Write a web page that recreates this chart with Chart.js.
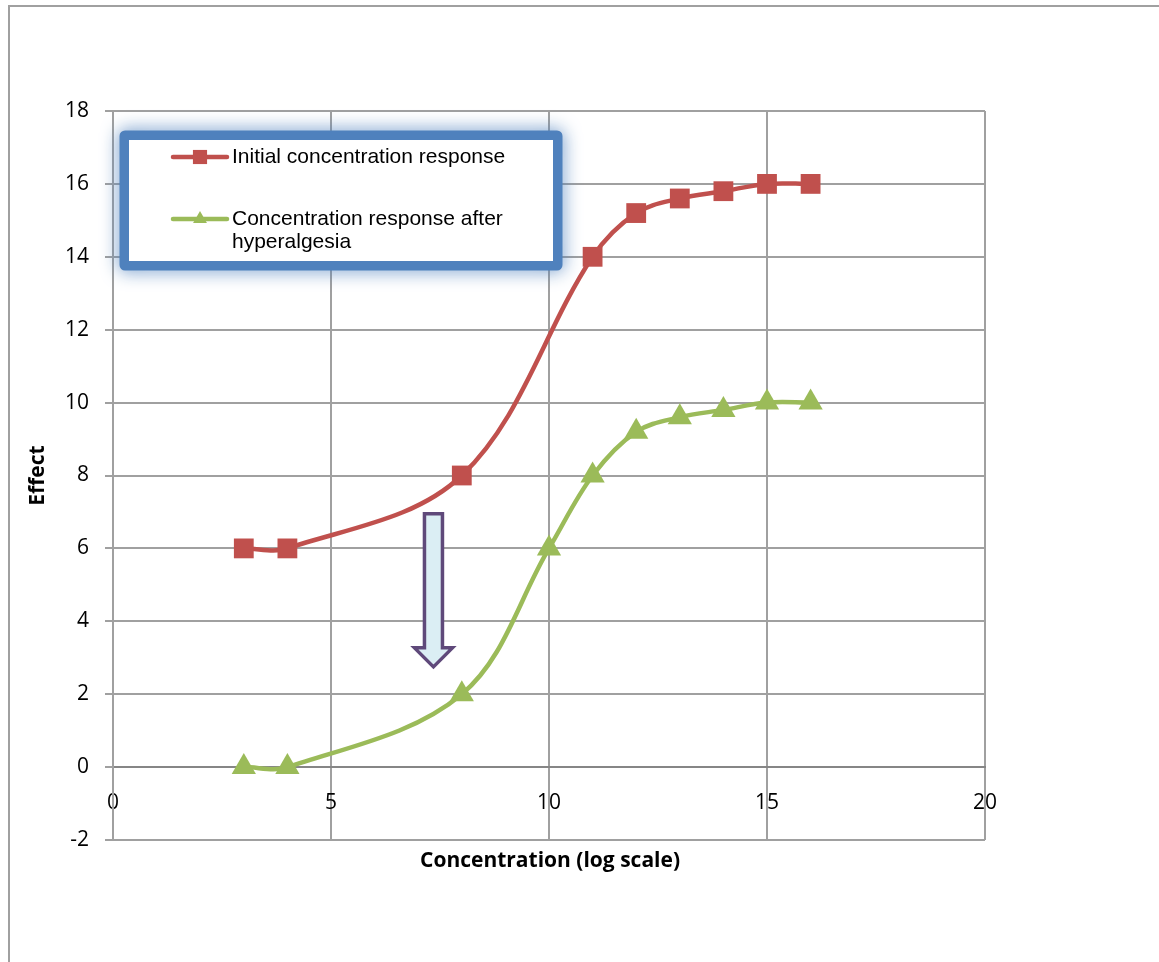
<!DOCTYPE html>
<html>
<head>
<meta charset="utf-8">
<script src="https://cdn.jsdelivr.net/npm/chart.js@4.4.1/dist/chart.umd.min.js"></script>
<style>
  html, body { margin: 0; padding: 0; background: #fff; overflow: hidden; }
  #frame { position: absolute; left: 8px; top: 5px; width: 1300px; height: 1100px;
           border-top: 2px solid #a0a0a0; border-left: 2px solid #a0a0a0; }
  #wrap { position: absolute; left: 0; top: 0; width: 1159px; height: 962px; }
</style>
</head>
<body>
<div id="frame"></div>
<div id="wrap"><canvas id="chart"></canvas></div>
<script>
// concentration response data
var initialX = [3, 4, 8, 11, 12, 13, 14, 15, 16];
var initialY = [6, 6, 8, 14, 15.2, 15.6, 15.8, 16, 16];
var afterX   = [3, 4, 8, 10, 11, 12, 13, 14, 15, 16];
var afterY   = [0, 0, 2, 6, 8, 9.2, 9.6, 9.8, 10, 10];
var seriesNames = ['Initial concentration response', 'Concentration response after hyperalgesia'];
var xTitle = 'Concentration (log scale)';
var yTitle = 'Effect';
// arrow annotation in data units
var arrowX = 7.35, arrowTop = 6.95, arrowTip = 2.75;

var RED = '#c0504d', GREEN = '#9bbb59';

function pts(xs, ys) { return xs.map(function (x, i) { return { x: x, y: ys[i] }; }); }

// legend box, arrow and x title drawn by hand
var extras = {
  id: 'extras',
  afterDatasetsDraw: function (chart) {
    var ctx = chart.ctx, xs = chart.scales.x, ys = chart.scales.y;

    // hollow down arrow
    var cx = xs.getPixelForValue(arrowX);
    var top = ys.getPixelForValue(arrowTop), tip = ys.getPixelForValue(arrowTip);
    var sw = 9, hw = 19, headTop = tip - 19;
    ctx.save();
    ctx.beginPath();
    ctx.moveTo(cx - sw, top);
    ctx.lineTo(cx + sw, top);
    ctx.lineTo(cx + sw, headTop);
    ctx.lineTo(cx + hw, headTop);
    ctx.lineTo(cx, tip);
    ctx.lineTo(cx - hw, headTop);
    ctx.lineTo(cx - sw, headTop);
    ctx.closePath();
    ctx.fillStyle = '#dbeef4';
    ctx.fill();
    ctx.lineWidth = 3.5;
    ctx.strokeStyle = '#5f497a';
    ctx.lineJoin = 'miter';
    ctx.stroke();
    ctx.restore();
  },
  afterDraw: function (chart) {
    var ctx = chart.ctx, area = chart.chartArea;
    ctx.save();
    // x axis title
    ctx.fillStyle = '#000';
    ctx.font = 'bold 21px "Open Sans"';
    ctx.textAlign = 'center';
    ctx.textBaseline = 'middle';
    ctx.fillText(xTitle, (area.left + area.right) / 2 + 1, 861);

    // legend box with glow
    var L = 129, T = 140, R = 553, B = 261;
    ctx.save();
    ctx.shadowColor = 'rgba(79,129,189,0.95)';
    ctx.shadowBlur = 18;
    ctx.strokeStyle = '#4f81bd';
    ctx.lineWidth = 11;
    ctx.lineJoin = 'round';
    ctx.strokeRect(L - 4, T - 4, R - L + 8, B - T + 8);
    ctx.restore();
    ctx.fillStyle = '#fff';
    ctx.fillRect(L, T, R - L, B - T);

    var rows = [
      { y: 157, color: RED, style: 'rect', r: 10, lines: [seriesNames[0]] },
      { y: 219, color: GREEN, style: 'triangle', r: 8, lines: ['Concentration response after', 'hyperalgesia'] }
    ];
    rows.forEach(function (row) {
      ctx.strokeStyle = row.color;
      ctx.lineWidth = 4.5;
      ctx.lineCap = 'round';
      ctx.beginPath();
      ctx.moveTo(173, row.y);
      ctx.lineTo(227, row.y);
      ctx.stroke();
      ctx.fillStyle = row.color;
      Chart.helpers.drawPoint(ctx, { pointStyle: row.style, radius: row.r, borderWidth: 0 }, 200, row.y);
      ctx.fillStyle = '#000';
      ctx.font = '21px "Liberation Sans", Arial';
      ctx.textAlign = 'left';
      ctx.textBaseline = 'middle';
      row.lines.forEach(function (t, i) { ctx.fillText(t, 232, row.y + i * 23); });
    });
    ctx.restore();
  }
};

new Chart(document.getElementById('chart'), {
  type: 'scatter',
  data: {
    datasets: [{
      label: seriesNames[0],
      data: pts(initialX, initialY),
      showLine: true,
      borderColor: RED,
      backgroundColor: RED,
      borderWidth: 4.5,
      tension: 0.35,
      pointStyle: 'rect',
      pointRadius: 14,
      pointBorderWidth: 0,
      pointHoverRadius: 14
    }, {
      label: seriesNames[1],
      data: pts(afterX, afterY),
      showLine: true,
      borderColor: GREEN,
      backgroundColor: GREEN,
      borderWidth: 4.5,
      tension: 0.35,
      pointStyle: 'triangle',
      pointRadius: 14,
      pointBorderWidth: 0,
      pointHoverRadius: 14
    }]
  },
  options: {
    responsive: true,
    maintainAspectRatio: false,
    animation: false,
    layout: { padding: { left: 0, top: 111, right: 174, bottom: 122 } },
    plugins: { legend: { display: false }, tooltip: { enabled: false } },
    scales: {
      x: {
        type: 'linear',
        position: { y: 0 },
        min: 0, max: 20,
        ticks: { stepSize: 5, padding: 23, color: '#000', font: { family: '"Open Sans"', size: 21 } },
        grid: { color: '#a0a0a0', lineWidth: 2, drawTicks: false },
        border: { color: '#868686', width: 2 }
      },
      y: {
        type: 'linear',
        min: -2, max: 18,
        afterFit: function (s) { s.width = 113; },
        ticks: { stepSize: 2, padding: 16, color: '#000', font: { family: '"Open Sans"', size: 21 } },
        grid: { color: '#a0a0a0', lineWidth: 2, tickLength: 8 },
        border: { color: '#a0a0a0', width: 2 },
        title: { display: true, text: yTitle, color: '#000', font: { family: '"Open Sans"', size: 21, weight: 'bold' }, padding: { top: 25, bottom: 0 } }
      }
    }
  },
  plugins: [extras]
});
</script>
</body>
</html>
